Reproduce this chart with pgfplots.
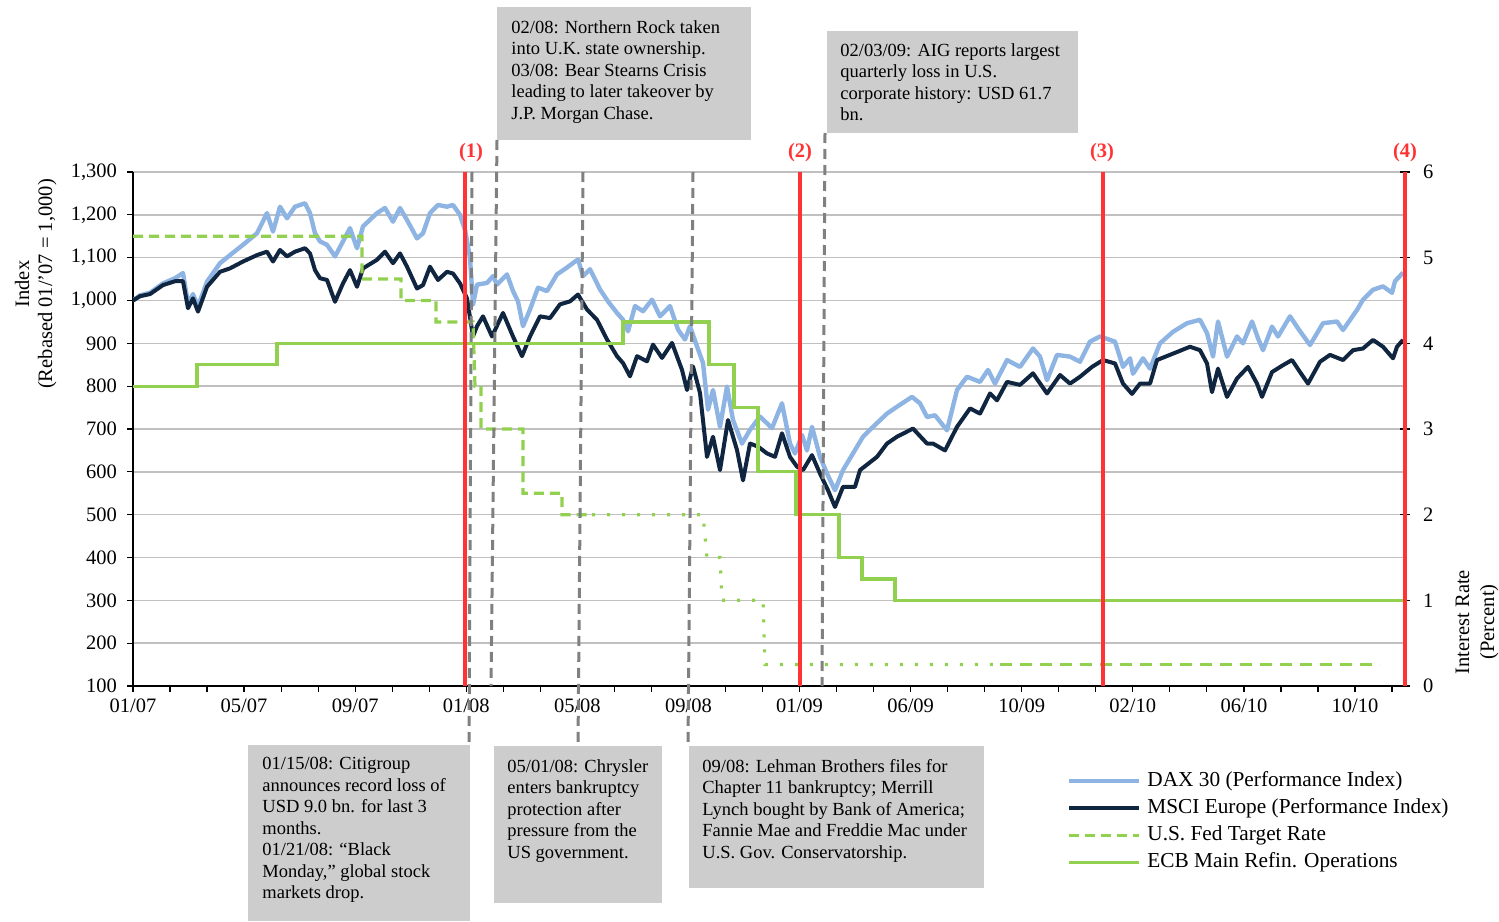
\documentclass[border=0pt]{standalone}
\usepackage{fontspec}
\setmainfont{Liberation Serif}
\usepackage{pgfplots}
\pgfplotsset{compat=1.18}

\definecolor{dax}{RGB}{141,180,226}
\definecolor{msci}{RGB}{16,37,63}
\definecolor{ecb}{RGB}{146,208,80}
\definecolor{boxgray}{RGB}{205,205,205}
\definecolor{gridgray}{RGB}{192,192,192}
\definecolor{evred}{RGB}{255,51,51}
\definecolor{evgray}{RGB}{128,128,128}

\newcommand{\annot}{\fontsize{9.25}{10.75}\selectfont}
\newcommand{\lbl}{\fontsize{10.25}{12}\selectfont}

\begin{document}
\begin{tikzpicture}[x=0.5pt,y=-0.5pt]

% annotation boxes
\fill[boxgray] (497,7) rectangle (751,140);
\node[anchor=north west,inner sep=0pt,align=left,font=\annot] at (511,20)
  {02/08: Northern Rock taken\\into U.K. state ownership.\\03/08: Bear Stearns Crisis\\leading to later takeover by\\J.P. Morgan Chase.};
\fill[boxgray] (827,31) rectangle (1078,133);
\node[anchor=north west,inner sep=0pt,align=left,font=\annot] at (840,43)
  {02/03/09: AIG reports largest\\quarterly loss in U.S.\\corporate history: USD 61.7\\bn.};
\fill[boxgray] (248,745) rectangle (470,921);
\node[anchor=north west,inner sep=0pt,align=left,font=\annot] at (262,757)
  {01/15/08: Citigroup\\announces record loss of\\USD 9.0 bn. for last 3\\months.\\01/21/08: ``Black\\Monday,'' global stock\\markets drop.};
\fill[boxgray] (494,746) rectangle (662,903);
\node[anchor=north west,inner sep=0pt,align=left,font=\annot] at (507,759)
  {05/01/08: Chrysler\\enters bankruptcy\\protection after\\pressure from the\\US government.};
\fill[boxgray] (689,746) rectangle (984,888);
\node[anchor=north west,inner sep=0pt,align=left,font=\annot] at (702,759)
  {09/08: Lehman Brothers files for\\Chapter 11 bankruptcy; Merrill\\Lynch bought by Bank of America;\\Fannie Mae and Freddie Mac under\\U.S. Gov. Conservatorship.};

% axis titles
\node[rotate=90,anchor=base,font=\lbl] at (29,284) {Index};
\node[rotate=90,anchor=base,font=\lbl] at (52,284) {(Rebased 01/'07 = 1,000)};
\node[rotate=90,anchor=base,font=\lbl] at (1469,622) {Interest Rate};
\node[rotate=90,anchor=base,font=\lbl] at (1494,622) {(Percent)};

% index axis
\begin{axis}[
  at={(66.5pt,-343pt)}, anchor=south west,
  scale only axis, width=636pt, height=257pt,
  xmin=133, xmax=1405, ymin=100, ymax=1300,
  axis x line*=bottom, axis y line*=left,
  axis line style={black, line width=0.6pt},
  xtick={133,170.03,...,1400},
  xticklabels={01/07,,,05/07,,,09/07,,,01/08,,,05/08,,,09/08,,,01/09,,,06/09,,,10/09,,,02/10,,,06/10,,,10/10,,},
  ytick={100,200,...,1300},
  tick align=outside, major tick length=3pt,
  tick style={black, line width=0.6pt},
  ymajorgrids, grid style={gridgray, line width=0.7pt},
  ticklabel style={font=\lbl},
  yticklabel style={xshift=-1.5pt},
  /pgf/number format/assume math mode=true,
  /pgf/number format/1000 sep={,},
  scaled y ticks=false,
  every axis plot/.append style={line join=round},
]
\addplot[dax, line width=2.2pt] coordinates {
(133,1000) (140,1012) (150,1018) (163,1040) (175,1052) (183,1064) (188,993) (193,1015)
(198,986) (207,1044) (220,1087) (230,1106) (243,1130) (257,1157) (267,1204) (273,1161)
(280,1219) (287,1192) (295,1219) (305,1227) (310,1204) (315,1157) (320,1138) (327,1130)
(335,1103) (343,1138) (350,1169) (357,1122) (363,1173) (377,1204) (385,1216) (393,1184)
(400,1216) (407,1188) (417,1145) (423,1157) (430,1204) (438,1223) (447,1219) (453,1223)
(460,1200) (465,1165) (470,1100) (473,990) (477,1037) (487,1041) (493,1057) (497,1037)
(507,1061) (513,1022) (518,998) (523,940) (530,979) (538,1030) (547,1022) (557,1061)
(567,1077) (578,1096) (583,1057) (590,1073) (600,1026) (608,998) (617,971) (623,955)
(628,928) (635,987) (643,975) (652,1002) (660,963) (670,987) (678,932) (685,909)
(690,940) (697,893) (703,854) (708,745) (713,791) (720,705) (727,799) (733,721)
(742,666) (750,698) (760,729) (772,702) (782,760) (790,666) (795,643) (802,686)
(807,650) (812,705) (820,635) (827,596) (835,557) (843,604) (853,643) (863,682)
(873,705) (887,736) (897,752) (912,775) (920,760) (927,728) (935,732) (947,697)
(957,791) (967,822) (980,810) (988,838) (995,806) (1007,861) (1020,845) (1033,888)
(1040,869) (1047,814) (1057,873) (1070,869) (1080,857) (1090,904) (1100,916) (1110,908)
(1115,904) (1123,845) (1130,865) (1133,829) (1143,865) (1150,841) (1160,900) (1173,927)
(1187,947) (1200,955) (1207,924) (1213,869) (1218,951) (1227,869) (1237,916) (1243,900)
(1252,951) (1258,912) (1263,884) (1272,939) (1278,916) (1290,963) (1298,935) (1310,896)
(1323,947) (1337,951) (1343,931) (1357,978) (1363,1002) (1373,1025) (1383,1033) (1392,1018)
(1395,1045) (1403,1065)
};
\addplot[msci, line width=2pt] coordinates {
(133,1000) (140,1010) (150,1015) (163,1036) (175,1045) (183,1045) (188,982) (193,1005)
(198,974) (207,1032) (220,1067) (230,1075) (243,1091) (257,1106) (267,1114) (273,1091)
(280,1118) (287,1103) (295,1114) (305,1122) (310,1110) (315,1071) (320,1052) (327,1048)
(335,997) (343,1040) (350,1071) (357,1032) (363,1075) (377,1095) (385,1114) (393,1087)
(400,1110) (407,1079) (417,1028) (423,1036) (430,1079) (438,1048) (447,1067) (453,1063)
(460,1040) (467,1005) (473,916) (477,940) (483,963) (492,916) (503,971) (513,916)
(522,870) (530,916) (540,963) (550,959) (560,991) (570,998) (578,1014) (587,979)
(597,955) (607,909) (617,870) (623,854) (630,823) (637,870) (647,858) (653,897)
(662,866) (672,901) (682,838) (687,791) (693,846) (700,784) (707,635) (713,682)
(720,604) (728,721) (737,651) (743,580) (750,666) (758,659) (767,643) (775,635)
(782,690) (790,635) (797,612) (803,604) (812,639) (820,596) (828,557) (835,518)
(843,565) (855,565) (860,604) (877,635) (887,666) (897,682) (913,701) (927,666)
(933,666) (945,650) (957,705) (970,748) (980,736) (990,783) (997,767) (1007,810)
(1020,803) (1033,830) (1047,783) (1060,826) (1070,806) (1080,822) (1092,845) (1103,861)
(1115,853) (1123,806) (1132,782) (1140,806) (1150,806) (1157,861) (1173,876) (1190,892)
(1200,884) (1207,853) (1212,786) (1218,841) (1227,775) (1237,818) (1248,845) (1257,806)
(1262,775) (1272,833) (1283,849) (1292,861) (1300,833) (1308,806) (1320,857) (1330,873)
(1343,861) (1353,884) (1363,888) (1373,908) (1383,892) (1393,865) (1397,892) (1403,908)
};
\end{axis}

% interest rate axis
\begin{axis}[
  at={(66.5pt,-343pt)}, anchor=south west,
  scale only axis, width=636pt, height=257pt,
  xmin=133, xmax=1405, ymin=0, ymax=6,
  axis x line=none, axis y line*=right,
  axis line style={black, line width=0.6pt},
  ytick={0,1,...,6},
  tick align=center, major tick length=5pt,
  tick style={black, line width=0.6pt},
  ticklabel style={font=\lbl},
  yticklabel style={xshift=3pt},
  /pgf/number format/assume math mode=true,
  legend style={at={(0.734,-0.158)}, anchor=north west, draw=none, fill=none,
    inner sep=0pt, row sep=0pt, font=\fontsize{10.65}{12}\selectfont,
    nodes={inner xsep=3pt, inner ysep=0pt, text height=9.5pt, text depth=4pt}},
  legend cell align=left,
  legend image code/.code={\draw[#1] (0pt,0pt) -- (35pt,0pt);},
]
\addlegendimage{dax, line width=2.2pt}
\addlegendentry{DAX 30 (Performance Index)}
\addlegendimage{msci, line width=2pt}
\addlegendentry{MSCI Europe (Performance Index)}
\addplot[ecb, line width=1.6pt, dash pattern=on 5pt off 3pt] coordinates {
(133,5.25) (362,5.25) (362,4.75) (401,4.75) (401,4.5) (436,4.5) (436,4.25) (473,4.25)
(475,3.5) (481,3.5) (481,3.0) (523,3.0) (523,2.25) (562,2.25) (562,2.0) (592,2.0)
};
\addlegendentry{U.S. Fed Target Rate}
\addplot[ecb, line width=1.6pt, dash pattern=on 1.5pt off 6pt, forget plot] coordinates {
(592,2.0) (703,2.0) (707,1.5) (720,1.5) (722,1.0) (763,1.0) (765,0.25) (1000,0.25)
};
\addplot[ecb, line width=1.6pt, dash pattern=on 6pt off 4pt, forget plot] coordinates {
(1000,0.25) (1380,0.25)
};
\addplot[ecb, line width=1.6pt] coordinates {
(133,3.5) (197,3.5) (197,3.75) (277,3.75) (277,4.0) (623,4.0) (623,4.25) (709,4.25)
(709,3.75) (734,3.75) (734,3.25) (758,3.25) (758,2.5) (796,2.5) (796,2.0) (839,2.0)
(839,1.5) (862,1.5) (862,1.25) (895,1.25) (895,1.0) (1405,1.0)
};
\addlegendentry{ECB Main Refin. Operations}
\end{axis}

% event markers
\begin{scope}[evgray, line width=1.5pt, dash pattern=on 5pt off 3pt]
\draw (472,172) -- (469,745);
\draw (497,140) -- (491,686);
\draw (583,172) -- (578,746);
\draw (693,172) -- (688,746);
\draw (825,133) -- (822,686);
\end{scope}
\begin{scope}[evred, line width=2pt]
\draw (465,172) -- (465,686);
\draw (800,172) -- (800,686);
\draw (1103,172) -- (1103,686);
\draw (1405,172) -- (1405,686);
\end{scope}
\begin{scope}[text=evred, font=\fontsize{10.25}{12}\selectfont\bfseries]
\node at (471,153) {(1)};
\node at (800,153) {(2)};
\node at (1102,153) {(3)};
\node at (1405,153) {(4)};
\end{scope}

\pgfresetboundingbox
\path (0,0) rectangle (1499,921);
\end{tikzpicture}
\end{document}
